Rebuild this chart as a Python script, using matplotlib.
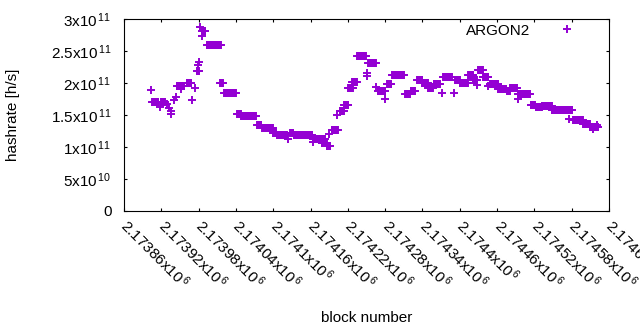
import numpy as np
import matplotlib
matplotlib.use('Agg')
import matplotlib.pyplot as plt

plt.rcParams['font.family'] = ['Liberation Sans', 'DejaVu Sans']
plt.rcParams['mathtext.fontset'] = 'custom'
plt.rcParams['mathtext.rm'] = 'Liberation Sans'
plt.rcParams['mathtext.it'] = 'Liberation Sans:italic'

# runs of consecutive blocks sharing one hashrate estimate (units of 1e11 h/s)
run_start = [2173905, 2173920, 2173945, 2173961, 2173977, 2173985, 2173993, 2174015,
             2174021, 2174042, 2174048, 2174074, 2174082, 2174100, 2174106, 2174127,
             2174133, 2174164, 2174178, 2174186, 2174194, 2174207, 2174214, 2174221,
             2174227, 2174235, 2174253, 2174268, 2174283, 2174291, 2174312, 2174321,
             2174332, 2174340, 2174349, 2174358, 2174373, 2174393, 2174400, 2174414,
             2174422, 2174430, 2174438, 2174448, 2174462, 2174476, 2174481, 2174494,
             2174514, 2174522, 2174532, 2174548, 2174582, 2174598, 2174610]
run_end = [2173915, 2173926, 2173956, 2173968, 2173981, 2173991, 2174016, 2174019,
           2174040, 2174048, 2174072, 2174081, 2174099, 2174105, 2174122, 2174132,
           2174163, 2174183, 2174186, 2174192, 2174204, 2174214, 2174221, 2174228,
           2174234, 2174249, 2174265, 2174280, 2174290, 2174310, 2174320, 2174328,
           2174340, 2174349, 2174357, 2174368, 2174387, 2174400, 2174413, 2174422,
           2174427, 2174437, 2174446, 2174462, 2174475, 2174481, 2174492, 2174513,
           2174521, 2174532, 2174548, 2174581, 2174598, 2174609, 2174623]
run_rate = [1.70, 1.71, 1.95, 2.00, 2.19, 2.81, 2.59, 2.00,
            1.84, 1.515, 1.485, 1.35, 1.30, 1.22, 1.18, 1.22,
            1.18, 1.13, 1.07, 1.01, 1.26, 1.56, 1.65, 1.92,
            2.02, 2.42, 2.32, 1.88, 1.98, 2.12, 1.83, 1.875,
            2.04, 2.00, 1.92, 1.98, 2.09, 2.05, 2.00, 2.12,
            2.05, 2.21, 2.09, 1.98, 1.90, 1.88, 1.92, 1.83,
            1.65, 1.62, 1.64, 1.58, 1.42, 1.36, 1.31]

# single blocks
single_block = [2173903, 2173918, 2173929, 2173932, 2173936, 2173935, 2173940, 2173944,
                2173952, 2173970, 2173974, 2173979, 2173981, 2173982, 2173986, 2174123,
                2174164, 2174190, 2174202, 2174250, 2174251, 2174265, 2174280, 2174371,
                2174390, 2174428, 2174445, 2174494, 2174576, 2174621, 2174614]
single_rate = [1.886, 1.62, 1.67, 1.61, 1.555, 1.51, 1.73, 1.78,
               1.90, 1.73, 1.92, 2.28, 2.33, 2.88, 2.74, 1.12,
               1.08, 1.20, 1.50, 2.15, 2.11, 1.94, 1.75, 1.85,
               1.85, 1.97, 1.95, 1.75, 1.44, 1.34, 1.28]

xtick_values = [2173860, 2173920, 2173980, 2174040, 2174100, 2174160, 2174220,
                2174280, 2174340, 2174400, 2174460, 2174520, 2174580, 2174640]
xtick_text = ['2.17386', '2.17392', '2.17398', '2.17404', '2.1741', '2.17416', '2.17422',
              '2.17428', '2.17434', '2.1744', '2.17446', '2.17452', '2.17458', '2.17464']
ytick_values = [0, 5e10, 1e11, 1.5e11, 2e11, 2.5e11, 3e11]
ytick_text = ['0', r'5x10$^{\,10}$', r'1x10$^{\,11}$', r'1.5x10$^{\,11}$',
              r'2x10$^{\,11}$', r'2.5x10$^{\,11}$', r'3x10$^{\,11}$']

blocks = np.concatenate([np.arange(s, e + 1) for s, e in zip(run_start, run_end)] + [single_block])
rates = np.concatenate([np.repeat(r, e - s + 1) for s, e, r in zip(run_start, run_end, run_rate)]
                       + [single_rate]) * 1e11

fig = plt.figure(figsize=(6.4, 3.3), dpi=100)
ax = fig.add_axes([124 / 640, (330 - 211) / 330, (609 - 124) / 640, (211 - 19) / 330])

ax.plot(blocks, rates, '+', color='#9400D3', markersize=5.5, markeredgewidth=1.4,
        label='ARGON2')

ax.set_xlim(xtick_values[0], xtick_values[-1])
ax.set_ylim(0, 3e11)
ax.set_xticks(xtick_values)
ax.set_xticklabels([t + r'x10$^{\,6}$' for t in xtick_text], rotation=-45,
                   ha='left', va='center', rotation_mode='anchor', fontsize=11)
ax.set_yticks(ytick_values)
ax.set_yticklabels(ytick_text, fontsize=11)
ax.tick_params(direction='in', top=True, right=True, length=2.5, width=0.8)
ax.tick_params(axis='x', pad=8)
ax.tick_params(axis='y', pad=9)
for s in ax.spines.values():
    s.set_linewidth(0.8)

ax.set_xlabel('block number', fontsize=11)
ax.xaxis.set_label_coords(0.5, -0.52)
ax.set_ylabel('hashrate [h/s]', fontsize=11)
ax.yaxis.set_label_coords(-0.214, 0.5)

ax.legend(loc='upper right', bbox_to_anchor=((582 - 124) / 485, 0.975), frameon=False,
          markerfirst=False, numpoints=1, fontsize=11, handlelength=2,
          handletextpad=1.4, borderpad=0, borderaxespad=0)

fig.savefig('out.png', dpi=100)
